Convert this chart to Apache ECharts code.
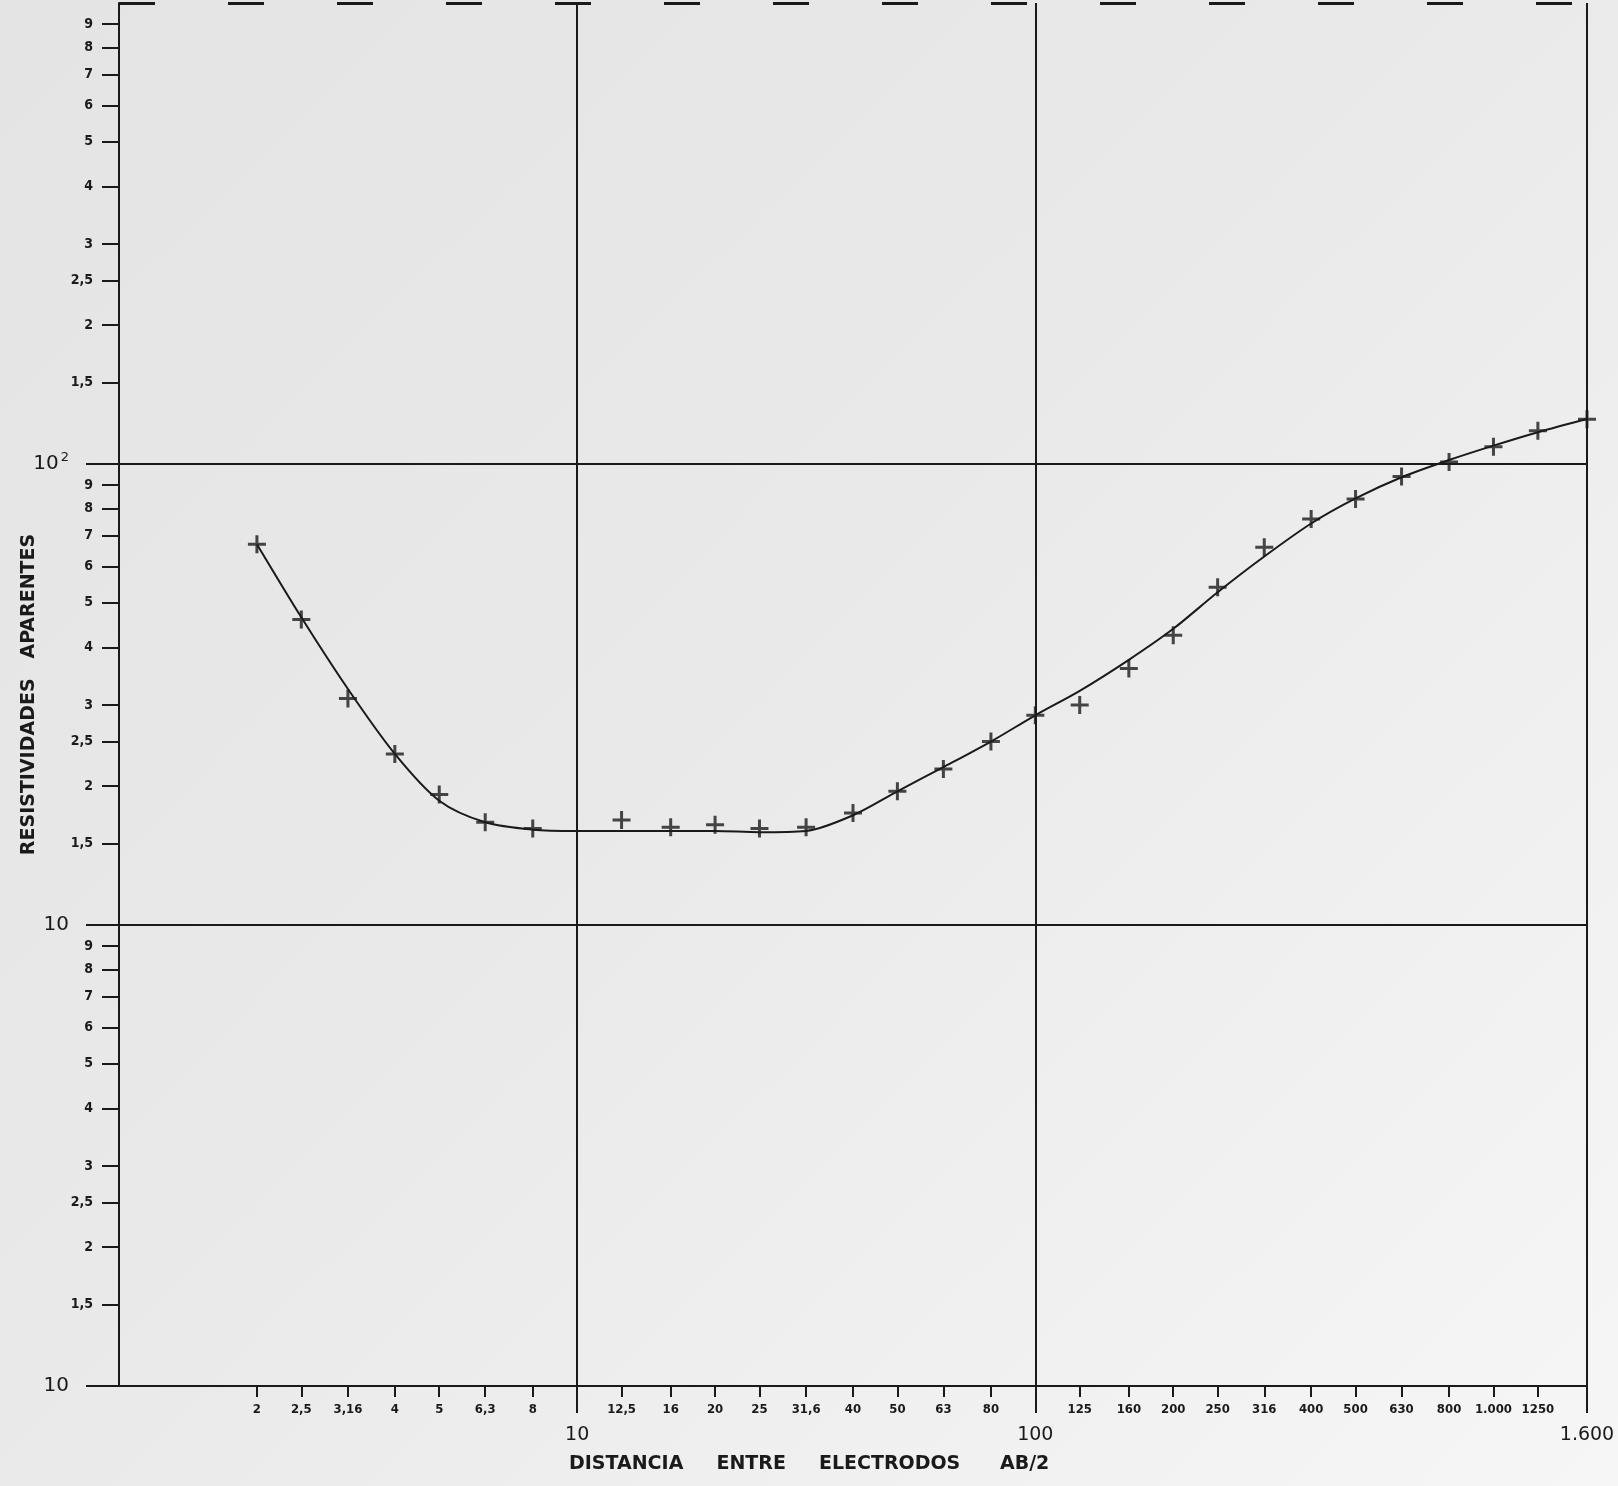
<!DOCTYPE html>
<html><head><meta charset="utf-8">
<script src="https://cdn.jsdelivr.net/npm/echarts@6/dist/echarts.min.js"></script>
<style>
html,body{margin:0;padding:0;}
body{background:linear-gradient(135deg,#e4e4e4 0%,#e9e9e9 45%,#f6f6f6 100%);}
#c{width:1618px;height:1486px;}
</style>
</head><body><div id="c"></div>
<script>
// Measured points (AB/2 vs apparent resistivity)
const abHalf = [2,2.5,3.16,4,5,6.3,8,12.5,16,20,25,31.6,40,50,63,80,100,125,160,200,250,316,400,500,630,800,1000,1250,1600];
const rhoMeasured = [67,46,31,23.5,19.2,16.7,16.2,16.9,16.3,16.5,16.2,16.3,17.5,19.5,21.8,25,28.5,30,36,42.5,54,66,76,84,94,101,109,118,125];
// Hand-drawn fitted curve
const curveX = [2,2.5,3.16,4,5,6.3,8,10,12.5,16,20,25,31.6,40,50,63,80,100,125,160,200,250,316,400,500,630,800,1000,1250,1600];
const curveY = [67,46.5,32.5,23.5,18.6,16.7,16.1,16.0,16.0,16.0,16.0,15.9,16.0,17.3,19.5,22,25,28.5,32.2,37.6,43.9,52.7,63.0,74.3,84.2,93.6,102,109.6,117.2,125.2];
// Tick labels
const xMinorTicks = [2,2.5,3.16,4,5,6.3,8,12.5,16,20,25,31.6,40,50,63,80,125,160,200,250,316,400,500,630,800,1000,1250];
const xMinorLabels = ['2','2,5','3,16','4','5','6,3','8','12,5','16','20','25','31,6','40','50','63','80','125','160','200','250','316','400','500','630','800','1.000','1250'];
const xMajorTicks = [10,100,1600];
const xMajorLabels = ['10','100','1.600'];
const yMinorSteps = [1.5,2,2.5,3,4,5,6,7,8,9];
const yMinorLabels = ['1,5','2','2,5','3','4','5','6','7','8','9'];
const yDecades = [1,10,100];
const yMajorLabels = ['10','10','10{sup|2}'];

const yMinorTicks = [];
const yMinorMap = [];
yDecades.forEach(d => yMinorSteps.forEach((s,i) => { yMinorTicks.push(s*d); yMinorMap.push(yMinorLabels[i]); }));

function lookup(vals, labels, v){
  for (let i=0;i<vals.length;i++){ if (Math.abs(vals[i]-v) < vals[i]*1e-3) return labels[i]; }
  return '';
}

const INK = '#1a1a1a';
const condensed = "'DejaVu Sans Condensed','DejaVu Sans',sans-serif";
const sans = "'DejaVu Sans',sans-serif";

const chart = echarts.init(document.getElementById('c'), null, {renderer:'canvas'});
chart.setOption({
  backgroundColor: 'transparent',
  animation: false,
  grid: {left:119, right:31, top:3, bottom:100, show:false},
  xAxis: [
    {
      type:'log', logBase:10, min:1, max:1600, position:'bottom',
      axisLine:{show:true, lineStyle:{color:INK, width:2}},
      axisTick:{show:true, customValues:xMinorTicks, length:11, lineStyle:{color:INK, width:2}},
      axisLabel:{show:true, customValues:xMinorTicks, margin:17, color:INK, fontSize:13, fontWeight:'bold', fontFamily:condensed,
        formatter: v => lookup(xMinorTicks, xMinorLabels, v)},
      splitLine:{show:false}, minorTick:{show:false}
    },
    {
      type:'log', logBase:10, min:1, max:1600, position:'bottom',
      axisLine:{show:false},
      axisTick:{show:true, customValues:xMajorTicks, length:27, lineStyle:{color:INK, width:2}},
      axisLabel:{show:true, customValues:xMajorTicks, margin:40, color:INK, fontSize:19, fontFamily:sans,
        formatter: v => lookup(xMajorTicks, xMajorLabels, v)},
      splitLine:{show:false}
    }
  ],
  yAxis: [
    {
      type:'log', logBase:10, min:1, max:1000, position:'left',
      name:'RESISTIVIDADES   APARENTES', nameLocation:'middle', nameGap:80, nameRotate:90,
      nameTextStyle:{color:INK, fontSize:19, fontWeight:'bold', fontFamily:sans},
      axisLine:{show:true, lineStyle:{color:INK, width:2}},
      axisTick:{show:true, customValues:yMinorTicks, length:17, lineStyle:{color:INK, width:2}},
      axisLabel:{show:true, customValues:yMinorTicks, margin:26, color:INK, fontSize:14, fontWeight:'bold', fontFamily:condensed,
        formatter: v => lookup(yMinorTicks, yMinorMap, v)},
      splitLine:{show:false}
    },
    {
      type:'log', logBase:10, min:1, max:1000, position:'left',
      axisLine:{show:false},
      axisTick:{show:true, customValues:yDecades, length:33, lineStyle:{color:INK, width:2}},
      axisLabel:{show:true, customValues:yDecades, margin:50, color:INK, fontSize:20, fontFamily:sans,
        formatter: v => lookup(yDecades, yMajorLabels, v),
        rich:{sup:{fontSize:13, fontFamily:sans, color:INK, verticalAlign:'top', padding:[0,0,12,2]}}},
      splitLine:{show:false}
    }
  ],
  graphic: [
    {type:'text', left:569, top:1455, style:{text:'DISTANCIA     ENTRE     ELECTRODOS      AB/2', fill:INK, fontSize:19, fontWeight:'bold', fontFamily:sans}}
  ],
  series: [
    {
      name:'curva', type:'line', xAxisIndex:0, yAxisIndex:0,
      data: curveX.map((x,i)=>[x, curveY[i]]),
      smooth:0.3, showSymbol:false, lineStyle:{color:INK, width:2},
      markLine:{
        silent:true, symbol:['none','none'], label:{show:false},
        lineStyle:{color:INK, width:2, type:'solid'},
        data:[
          {xAxis:10}, {xAxis:100}, {xAxis:1600},
          {yAxis:10}, {yAxis:100},
          {yAxis:1000, lineStyle:{type:[36,73], width:3}}
        ]
      }
    },
    {
      name:'medidas', type:'scatter', xAxisIndex:0, yAxisIndex:0,
      data: abHalf.map((x,i)=>[x, rhoMeasured[i]]),
      symbol:'path://M7.5,0 h3 v18 h-3 z M0,7.5 h18 v3 h-18 z', symbolSize:18,
      itemStyle:{color:INK}
    }
  ]
});
</script>
</body></html>
